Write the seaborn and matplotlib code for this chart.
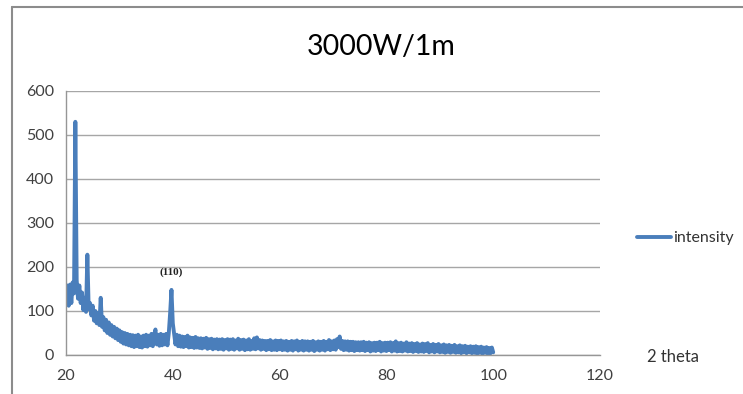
import numpy as np
import pandas as pd
import matplotlib
matplotlib.use("Agg")
import matplotlib.pyplot as plt
import seaborn as sns

# 2 theta grid, 0.25 degree step from 20 to 100
two_theta = np.arange(20, 100.001, 0.25)

# intensity, one row per 5 degrees
intensity = [
    140, 158, 112, 160, 118, 165, 140, 530, 170, 128, 158, 118, 142, 102, 130, 98, 228, 104, 118, 90,
    112, 78, 100, 72, 95, 68, 130, 64, 86, 56, 80, 50, 74, 46, 68, 42, 64, 38, 60, 34,
    56, 30, 52, 26, 50, 24, 48, 22, 46, 20, 45, 18, 44, 20, 46, 18, 42, 17, 44, 20,
    46, 19, 44, 22, 48, 20, 45, 58, 24, 46, 21, 48, 22, 46, 24, 48, 22, 50, 95, 148,
    72, 48, 24, 46, 20, 44, 19, 42, 18, 41, 20, 44, 17, 40, 18, 39, 16, 41, 17, 38,
    16, 38, 15, 37, 17, 39, 14, 36, 16, 37, 13, 35, 15, 36, 13, 35, 14, 36, 12, 34,
    15, 36, 12, 35, 14, 36, 12, 33, 15, 37, 12, 34, 14, 35, 11, 33, 13, 36, 12, 32,
    14, 38, 13, 40, 15, 34, 12, 33, 14, 32, 11, 32, 13, 34, 11, 31, 12, 33, 11, 32,
    13, 33, 11, 31, 12, 32, 10, 30, 12, 32, 10, 31, 13, 33, 10, 30, 12, 32, 10, 31,
    12, 31, 10, 30, 12, 32, 9, 29, 12, 31, 10, 30, 12, 32, 10, 30, 13, 34, 11, 31,
    13, 33, 12, 36, 18, 42, 14, 32, 11, 31, 12, 31, 10, 30, 11, 30, 9, 29, 11, 29,
    10, 29, 11, 30, 9, 28, 11, 29, 8, 27, 10, 28, 9, 28, 11, 30, 8, 27, 10, 28,
    9, 28, 11, 29, 8, 27, 10, 31, 8, 27, 9, 28, 8, 26, 10, 29, 8, 26, 9, 27,
    7, 25, 9, 27, 7, 24, 8, 26, 7, 25, 9, 27, 6, 23, 8, 25, 6, 23, 8, 25,
    6, 22, 7, 24, 5, 22, 7, 23, 5, 21, 7, 23, 5, 20, 6, 22, 4, 20, 6, 21,
    4, 19, 6, 20, 4, 19, 5, 20, 3, 18, 5, 19, 3, 17, 5, 18, 3, 16, 4, 17,
    6,
]

x_ticks = [20, 40, 60, 80, 100, 120]
y_ticks = [0, 100, 200, 300, 400, 500, 600]
peak_label = "(110)"
peak_pos = (39.7, 178)

df = pd.DataFrame({"2 theta": two_theta, "intensity": intensity})

sns.set_style("white")
plt.rcParams["font.family"] = ["Lato", "DejaVu Sans"]

fig = plt.figure(figsize=(7.43, 3.94), dpi=100)
ax = fig.add_axes([66 / 743, 39 / 394, 534 / 743, 264 / 394])

line_color = "#4a7ebb"
sns.lineplot(data=df, x="2 theta", y="intensity", ax=ax, color=line_color,
             linewidth=2.8, label="intensity", legend=False)

ax.set_xlim(20, 120)
ax.set_ylim(0, 600)
ax.set_xticks(x_ticks)
ax.set_yticks(y_ticks)
ax.yaxis.grid(True, color="#a6a6a6", linewidth=1)
ax.xaxis.grid(False)
ax.set_axisbelow(True)
for s in ["top", "right"]:
    ax.spines[s].set_visible(False)
for s in ["left", "bottom"]:
    ax.spines[s].set_color("#969696")
    ax.spines[s].set_linewidth(1)
ax.tick_params(axis="both", colors="#969696", labelcolor="#404040",
               labelsize=11.5, length=5, width=1, direction="out")
ax.tick_params(axis="x", pad=5)
ax.set_xlabel("")
ax.set_ylabel("")

ax.text(peak_pos[0], peak_pos[1], peak_label, ha="center", va="bottom",
        fontsize=8, family="Liberation Serif", fontweight="bold", color="#222222")

# title and side texts like the Excel chart
fig.text(381 / 743, 1 - 47 / 394, "3000W/1m", ha="center", va="center",
         fontsize=20.5, color="#000000")
fig.text(647 / 743, 1 - 357 / 394, "2 theta", ha="left", va="center",
         fontsize=12, color="#333333")

ax.legend(loc="center left", bbox_to_anchor=(637 / 743, 1 - 238 / 394),
          bbox_transform=fig.transFigure, frameon=False, fontsize=11.5,
          borderpad=0, borderaxespad=0,
          handlelength=2.1, handletextpad=0.15, labelcolor="#333333")

# outer frame of the chart area
fig.add_artist(plt.Line2D([12 / 743, 12 / 743], [0, 1 - 7 / 394],
                          transform=fig.transFigure, color="#8c8c8c", linewidth=1.5))
fig.add_artist(plt.Line2D([12 / 743, 1], [1 - 7 / 394, 1 - 7 / 394],
                          transform=fig.transFigure, color="#8c8c8c", linewidth=1.5))

fig.savefig("out.png", dpi=100)
